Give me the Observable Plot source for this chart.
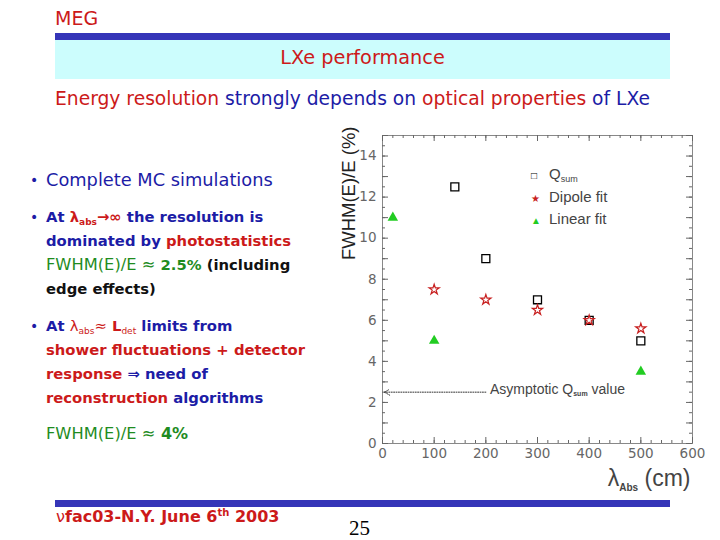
<!DOCTYPE html>
<html><head><meta charset="utf-8">
<script src="https://cdn.jsdelivr.net/npm/d3@7"></script>
<script src="https://cdn.jsdelivr.net/npm/@observablehq/plot@0.6"></script>
<style>
body{margin:0;background:#fff;}
#page{position:relative;width:720px;height:540px;overflow:hidden;font-family:"DejaVu Sans",sans-serif;background:#fff;}
.abs{position:absolute;white-space:nowrap;}
.r{color:#cc1a1a}.b{color:#1c1ca6}.g{color:#1f8c1f}.k{color:#111}
.para{position:absolute;left:30px;line-height:24px;font-size:14.8px;font-weight:bold;white-space:nowrap;}
.para .bul{position:absolute;left:0;font-weight:normal;font-size:14px;}
.para .body{position:absolute;left:16px;top:0;}
.reg{font-weight:normal;font-size:16.3px;}
sub.s{font-size:9px;vertical-align:-3px;line-height:0;}
#legend{position:absolute;left:531px;top:164px;font-family:"Liberation Sans",Arial,sans-serif;font-size:15px;color:#444;line-height:20.5px;}
#legend .sym{display:inline-block;width:18px;font-size:10px;text-align:left;}
</style></head><body><div id="page">
<div class="abs r" style="left:55px;top:7px;font-size:19px;">MEG</div>
<div class="abs" style="left:55px;top:33px;width:615px;height:7px;background:#3535b8;"></div>
<div class="abs" style="left:55px;top:40px;width:615px;height:39px;background:#ccfdfd;"></div>
<div class="abs r" style="left:55px;top:46px;width:615px;text-align:center;font-size:19.3px;">LXe performance</div>
<div class="abs" style="left:55px;top:88px;font-size:18.7px;"><span class="r">Energy resolution</span> <span class="b">strongly depends on</span> <span class="r">optical properties</span> <span class="b">of LXe</span></div>

<div class="para" style="top:168px;"><span class="bul b">•</span><span class="body b" style="font-weight:normal;font-size:17.8px;">Complete MC simulations</span></div>
<div class="para" style="top:205px;"><span class="bul b">•</span><span class="body"><span class="b">At</span> <span class="r">λ<sub class="s">abs</sub>→∞</span> <span class="b">the resolution is</span><br><span class="b">dominated by</span> <span class="r">photostatistics</span><br><span class="g reg">FWHM(E)/E ≈</span> <span class="g">2.5%</span> <span class="k">(including</span><br><span class="k">edge effects)</span></span></div>
<div class="para" style="top:314px;"><span class="bul b">•</span><span class="body"><span class="b">At</span> <span class="r" style="font-weight:normal">λ<sub class="s">abs</sub>≈</span> <span class="r">L<sub class="s" style="font-weight:normal">det</sub></span> <span class="b">limits from</span><br><span class="r">shower fluctuations + detector</span><br><span class="r">response</span> <span class="b">⇒ need of</span><br><span class="r">reconstruction</span> <span class="b">algorithms</span></span></div>
<div class="para" style="top:422px;"><span class="body g" style="font-size:16px;"><span class="reg">FWHM(E)/E ≈</span> 4%</span></div>

<div id="chart" class="abs" style="left:330px;top:115px;"></div>
<div id="legend">
<div><span class="sym" style="color:#000">□</span>Q<sub class="s">sum</sub></div>
<div><span class="sym" style="color:#c82020">★</span>Dipole fit</div>
<div><span class="sym" style="color:#22cc22">▲</span>Linear fit</div>
</div>

<div class="abs" style="left:55px;top:500px;width:615px;height:7px;background:#3535b8;"></div>
<div class="abs r" style="left:56px;top:507px;font-size:16px;font-weight:bold;"><span style="font-weight:normal">ν</span>fac03-N.Y. June 6<sup style="font-size:10px;">th</sup> 2003</div>
<div class="abs" style="left:349px;top:516px;font-family:'Liberation Serif','DejaVu Serif',serif;font-size:21px;color:#000;">25</div>
</div>
<script>
// Data
const qsumX = [140, 200, 300, 400, 500];
const qsumY = [12.5, 9, 7, 6, 5];
const dipoleX = [100, 200, 300, 400, 500];
const dipoleY = [7.5, 7, 6.5, 6, 5.6];
const linearX = [20, 100, 500];
const linearY = [11, 5, 3.5];
const xTicks = [0, 100, 200, 300, 400, 500, 600];
const yTicks = [0, 2, 4, 6, 8, 10, 12, 14];
const asymptoteY = 2.5;
const asymptoteFromX = 200;
const asymLabelX = 208;
const yLabel = "FWHM(E)/E (%)";
const xLabel = "λAbs (cm)";
const asymLabel = "Asymptotic Qsum value";

const qsum = qsumX.map((x, i) => ({x, y: qsumY[i]}));
const dipole = dipoleX.map((x, i) => ({x, y: dipoleY[i]}));
const linear = linearX.map((x, i) => ({x, y: linearY[i]}));
const xMinor = d3.range(0, 601, 20);
const yMinor = d3.range(0, 15.01, 0.5);
const yMid = d3.range(0, 15.01, 1);

const W = 390, H = 380, mL = 52, mR = 28, mT = 20, mB = 52;
const fw = W - mL - mR, fh = H - mT - mB;
const tc = "#666";

const chart = Plot.plot({
  width: W, height: H, marginLeft: mL, marginRight: mR, marginTop: mT, marginBottom: mB,
  style: {fontFamily: "'DejaVu Sans', sans-serif", fontSize: "13.5px", color: "#666", background: "transparent", overflow: "visible"},
  x: {domain: [0, 600], label: null},
  y: {domain: [0, 15], label: null},
  marks: [
    Plot.frame({stroke: "#888"}),
    Plot.tickX(xMinor, {x: d => d, insetTop: fh - 3, stroke: tc}),
    Plot.tickX(xMinor, {x: d => d, insetBottom: fh - 3, stroke: tc}),
    Plot.tickX(xTicks, {x: d => d, insetTop: fh - 6, stroke: tc}),
    Plot.tickX(xTicks, {x: d => d, insetBottom: fh - 6, stroke: tc}),
    Plot.tickY(yMinor, {y: d => d, insetRight: fw - 3, stroke: tc}),
    Plot.tickY(yMinor, {y: d => d, insetLeft: fw - 3, stroke: tc}),
    Plot.tickY(yMid, {y: d => d, insetRight: fw - 6, stroke: tc}),
    Plot.tickY(yMid, {y: d => d, insetLeft: fw - 6, stroke: tc}),
    Plot.axisX({ticks: xTicks, tickSize: 0, tickPadding: 5, label: null}),
    Plot.axisY({ticks: yTicks, tickSize: 0, tickPadding: 6, label: null}),
    Plot.arrow([{x1: asymptoteFromX, x2: 0, y: asymptoteY}], {x1: "x1", x2: "x2", y1: "y", y2: "y", stroke: "#333", strokeWidth: 1, strokeDasharray: "1,1.4", headLength: 9, insetEnd: 2}),
    Plot.text([asymLabel], {x: () => asymLabelX, y: () => asymptoteY, dy: -3, textAnchor: "start", fontSize: 14, fill: "#444", fontFamily: "'Liberation Sans', Arial, sans-serif"}),
    Plot.dot(qsum, {x: "x", y: "y", symbol: "square", r: 4.5, stroke: "#000", strokeWidth: 1.3, fill: "none"}),
    Plot.dot(dipole, {x: "x", y: "y", symbol: "star", r: 3.2, stroke: "#c82020", strokeWidth: 1.2, fill: "#fff"}),
    Plot.dot(linear, {x: "x", y: "y", symbol: "triangle", r: 3.9, fill: "#22cc22", stroke: "none"}),
    Plot.text([yLabel], {frameAnchor: "top-left", dx: -41, dy: -9, rotate: -90, textAnchor: "end", fontSize: 18.5, fill: "#222", fontFamily: "'Liberation Sans', Arial, sans-serif"}),
    Plot.text([xLabel], {frameAnchor: "bottom-right", dx: -2, dy: 42, textAnchor: "end", fontSize: 23, fill: "#444", fontFamily: "'Liberation Sans', Arial, sans-serif"})
  ]
});

// add subscripts
d3.select(chart).selectAll("text").each(function () {
  const t = this.textContent;
  const sel = d3.select(this);
  if (t === xLabel) {
    sel.text(null);
    sel.append("tspan").text("λ");
    sel.append("tspan").attr("font-size", 10).attr("font-weight", "bold").attr("dy", 5).text("Abs");
    sel.append("tspan").attr("dy", -5).text(" (cm)");
  } else if (t === asymLabel) {
    sel.text(null);
    sel.append("tspan").text("Asymptotic Q");
    sel.append("tspan").attr("font-size", 7).attr("font-weight", "bold").attr("dy", 2).text("sum");
    sel.append("tspan").attr("dy", -2).text(" value");
  }
});
document.getElementById("chart").appendChild(chart);
</script>
</body></html>
